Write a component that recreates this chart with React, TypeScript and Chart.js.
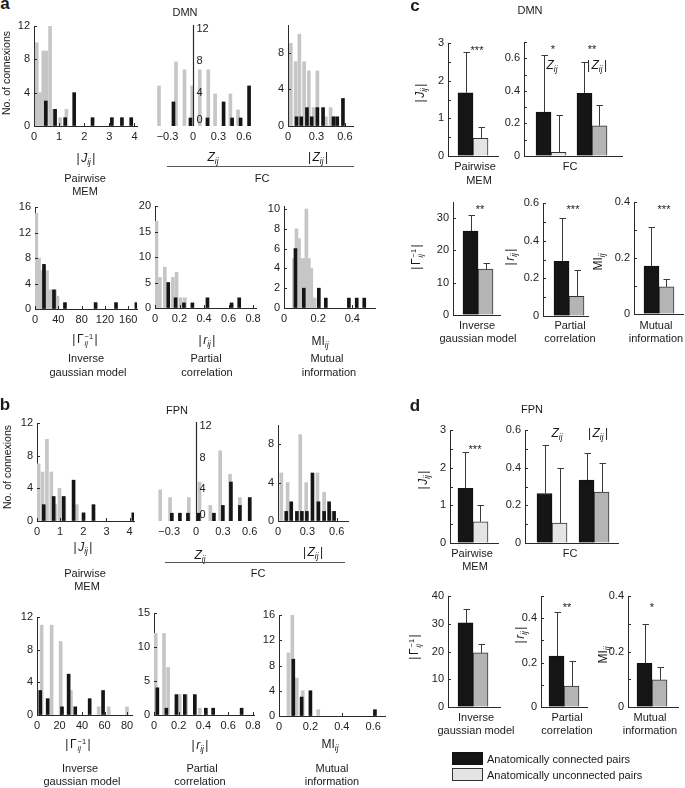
import React, { useEffect, useRef } from 'react';
import { Chart, registerables } from 'chart.js';

Chart.register(...registerables);

const FONT = '"Liberation Sans", Arial, Helvetica, sans-serif';
Chart.defaults.font.family = FONT;
Chart.defaults.font.size = 11;
Chart.defaults.color = '#222';

const BLACK = '#151515';
const HGRAY = '#c6c6c6';
const LIGHT = '#e4e4e4';
const MID = '#b4b4b4';
const AXIS = '#2a2a2a';

// ---------------- DATA ----------------
// Panel a (DMN) histograms: bin centres (x) and counts (y)
const dmnJConnX = [0.47, 0.84, 1.24, 1.6, 2.33, 3.1, 3.5, 3.87];
const dmnJConnY = [3, 2, 1, 4, 1, 1, 1, 1];
const dmnJUncX = [0.11, 0.24, 0.37, 0.49, 0.64, 0.77, 1.04, 1.29];
const dmnJUncY = [10, 4, 9, 9, 12, 2, 1, 2];

const dmnZConnX = [-0.23, -0.03, 0.17, 0.36, 0.46, 0.56, 0.66];
const dmnZConnY = [3, 1, 1, 3, 1, 1, 5];
const dmnZUncX = [-0.4, -0.2, -0.1, -0.01, 0.08, 0.18, 0.26, 0.44, 0.53];
const dmnZUncY = [5, 8, 7, 5, 7, 7, 4, 4, 2];

const dmnAZConnX = [0.09, 0.14, 0.2, 0.25, 0.31, 0.37, 0.48, 0.52, 0.58];
const dmnAZConnY = [1, 1, 2, 1, 2, 2, 1, 1, 3];
const dmnAZUncX = [0.03, 0.08, 0.12, 0.17, 0.22, 0.27, 0.31, 0.4, 0.45, 0.5];
const dmnAZUncY = [9, 7, 10, 7, 6, 2, 6, 1, 2, 1];

const dmnGConnX = [15.4, 32.6, 51.4, 104, 139, 174];
const dmnGConnY = [7, 3, 1, 1, 1, 1];
const dmnGUncX = [2.3, 6.9, 11.4, 16, 20.6, 25.1, 29.7, 34.3, 38.5];
const dmnGUncY = [15, 8, 6, 6, 6, 3, 3, 3, 2];

const dmnRConnX = [0.108, 0.168, 0.236, 0.305, 0.428, 0.625, 0.687];
const dmnRConnY = [5, 2, 1, 1, 2, 1, 2];
const dmnRUncX = [0.012, 0.04, 0.08, 0.146, 0.176, 0.209, 0.244];
const dmnRUncY = [17, 6, 8, 6, 7, 2, 2];

const dmnMIConnX = [0.067, 0.116, 0.204, 0.245, 0.38, 0.426, 0.47];
const dmnMIConnY = [6, 2, 2, 1, 1, 1, 1];
const dmnMIUncX = [0.058, 0.073, 0.088, 0.102, 0.117, 0.131, 0.146, 0.16, 0.18];
const dmnMIUncY = [5, 8, 7, 5, 5, 10, 5, 4, 1];

// Panel b (FPN) histograms
const fpnJConnX = [0.29, 0.72, 1.15, 1.58, 2.01, 2.44, 4.16];
const fpnJConnY = [2, 3, 3, 5, 1, 2, 1];
const fpnJUncX = [0.07, 0.24, 0.43, 0.62, 0.79, 0.97, 1.18, 1.72];
const fpnJUncY = [7, 6, 10, 6, 2, 4, 3, 2];

const fpnZConnX = [-0.27, -0.18, -0.09, 0.03, 0.2, 0.3, 0.39, 0.49, 0.6];
const fpnZConnY = [1, 1, 1, 1, 1, 2, 5, 2, 3];
const fpnZUncX = [-0.4, -0.29, -0.08, 0.04, 0.16, 0.27, 0.38, 0.49, 0.6];
const fpnZUncY = [4, 3, 3, 5, 2, 9, 6, 3, 3];

const fpnAZConnX = [0.084, 0.135, 0.193, 0.244, 0.295, 0.352, 0.413, 0.471, 0.522, 0.573];
const fpnAZConnY = [1, 2, 1, 1, 1, 5, 2, 1, 2, 1];
const fpnAZUncX = [0.034, 0.098, 0.227, 0.288, 0.403, 0.471, 0.539];
const fpnAZUncY = [5, 4, 9, 4, 5, 3, 1];

const fpnGConnX = [2.9, 9.5, 22.2, 28.1, 34, 46.8, 58.7];
const fpnGConnY = [3, 2, 1, 5, 1, 2, 3];
const fpnGUncX = [4.1, 13, 21, 30.2, 54.8, 63.7, 80];
const fpnGUncY = [11, 11, 9, 3, 1, 1, 1];

const fpnRConnX = [0.027, 0.1, 0.181, 0.249, 0.33, 0.419, 0.478, 0.708];
const fpnRConnY = [4, 1, 3, 3, 3, 1, 1, 1];
const fpnRUncX = [0.014, 0.081, 0.114, 0.208, 0.26, 0.37];
const fpnRUncY = [12, 12, 7, 3, 3, 1];

const fpnMIConnX = [0.091, 0.144, 0.2, 0.611];
const fpnMIConnY = [9, 3, 4, 1];
const fpnMIUncX = [0.06, 0.085, 0.113, 0.151, 0.25];
const fpnMIUncY = [10, 16, 6, 4, 1];

// Tick labels
const ticksJ = [0, 1, 2, 3, 4];
const ticksZ = [-0.3, 0, 0.3, 0.6];
const ticksAbsZ = [0, 0.3, 0.6];
const ticksGdmn = [0, 40, 80, 120, 160];
const ticksGfpn = [0, 20, 40, 60, 80];
const ticksR = [0, 0.2, 0.4, 0.6, 0.8];
const ticksMIdmn = [0, 0.2, 0.4];
const ticksMIfpn = [0, 0.2, 0.4, 0.6];
const cnt8 = [0, 4, 8];
const cnt10 = [0, 2, 4, 6, 8, 10];
const cnt12 = [0, 4, 8, 12];
const cnt15 = [0, 5, 10, 15];
const cnt16 = [0, 4, 8, 12, 16];
const cnt20 = [0, 5, 10, 15, 20];

// Panels c, d: mean values and top of error bars (mean + s.d.)
const groupOne = [1];
const groupFC = [1, 2]; // Zij, |Zij|

const dmnMemConn = [1.68];
const dmnMemConnUp = [2.77];
const dmnMemUnc = [0.47];
const dmnMemUncUp = [0.76];
const dmnFcConn = [0.27, 0.385];
const dmnFcConnUp = [0.62, 0.58];
const dmnFcUnc = [0.023, 0.186];
const dmnFcUncUp = [0.25, 0.313];
const dmnGaussConn = [26];
const dmnGaussConnUp = [30.9];
const dmnGaussUnc = [14.2];
const dmnGaussUncUp = [16];
const dmnPcConn = [0.29];
const dmnPcConnUp = [0.52];
const dmnPcUnc = [0.105];
const dmnPcUncUp = [0.245];
const dmnMiConn = [0.171];
const dmnMiConnUp = [0.311];
const dmnMiUnc = [0.097];
const dmnMiUncUp = [0.125];

const fpnMemConn = [1.45];
const fpnMemConnUp = [2.42];
const fpnMemUnc = [0.565];
const fpnMemUncUp = [1.0];
const fpnFcConn = [0.263, 0.334];
const fpnFcConnUp = [0.52, 0.48];
const fpnFcUnc = [0.106, 0.27];
const fpnFcUncUp = [0.4, 0.425];
const fpnGaussConn = [30.3];
const fpnGaussConnUp = [35.3];
const fpnGaussUnc = [19.5];
const fpnGaussUncUp = [22.7];
const fpnPcConn = [0.229];
const fpnPcConnUp = [0.427];
const fpnPcUnc = [0.094];
const fpnPcUncUp = [0.205];
const fpnMiConn = [0.157];
const fpnMiConnUp = [0.3];
const fpnMiUnc = [0.098];
const fpnMiUncUp = [0.143];

const yT3 = [0, 0.5, 1, 1.5, 2, 2.5, 3];
const yT3major = [0, 1, 2, 3];
const yT07 = [0, 0.1, 0.2, 0.3, 0.4, 0.5, 0.6, 0.7];
const yT06 = [0, 0.1, 0.2, 0.3, 0.4, 0.5, 0.6];
const yT06major = [0, 0.2, 0.4, 0.6];
const yT05 = [0, 0.1, 0.2, 0.3, 0.4, 0.5];
const yT04 = [0, 0.1, 0.2, 0.3, 0.4];
const yT04major = [0, 0.2, 0.4];
const yT35 = [0, 5, 10, 15, 20, 25, 30, 35];
const yT30major = [0, 10, 20, 30];
const yT40 = [0, 5, 10, 15, 20, 25, 30, 35, 40];
const yT40major = [0, 10, 20, 30, 40];

// ---------------- LAYOUT ----------------
const PL = 40, PT = 12, PR = 22, PB = 26;

const HISTS = [
  { L: 33.5, R: 136, T: 26, B: 126, xmin: 0, xmax: 4.1, ymax: 12, xt: ticksJ, yt: cnt12, cx: dmnJConnX, cy: dmnJConnY, ux: dmnJUncX, uy: dmnJUncY },
  { L: 150, R: 258, T: 25, B: 126, xmin: -0.506, xmax: 0.765, ymax: 12.6, xt: ticksZ, yt: cnt12, cx: dmnZConnX, cy: dmnZConnY, ux: dmnZUncX, uy: dmnZUncY, mid: true },
  { L: 287.5, R: 352.7, T: 25, B: 126, xmin: 0, xmax: 0.686, ymax: 11, xt: ticksAbsZ, yt: cnt8, cx: dmnAZConnX, cy: dmnAZConnY, ux: dmnAZUncX, uy: dmnAZUncY },
  { L: 35, R: 137, T: 206.7, B: 308.3, xmin: 0, xmax: 175, ymax: 16, xt: ticksGdmn, yt: cnt16, cx: dmnGConnX, cy: dmnGConnY, ux: dmnGUncX, uy: dmnGUncY },
  { L: 154.5, R: 255, T: 206, B: 308.3, xmin: 0, xmax: 0.824, ymax: 20, xt: ticksR, yt: cnt20, cx: dmnRConnX, cy: dmnRConnY, ux: dmnRUncX, uy: dmnRUncY },
  { L: 284.3, R: 375, T: 206, B: 307.5, xmin: 0, xmax: 0.533, ymax: 10.3, xt: ticksMIdmn, yt: cnt10, cx: dmnMIConnX, cy: dmnMIConnY, ux: dmnMIUncX, uy: dmnMIUncY },

  { L: 36.7, R: 134, T: 423.3, B: 521, xmin: 0, xmax: 4.19, ymax: 12, xt: ticksJ, yt: cnt12, cx: fpnJConnX, cy: fpnJConnY, ux: fpnJUncX, uy: fpnJUncY },
  { L: 155, R: 262, T: 422, B: 521, xmin: -0.458, xmax: 0.737, ymax: 12.7, xt: ticksZ, yt: cnt12, cx: fpnZConnX, cy: fpnZConnY, ux: fpnZUncX, uy: fpnZUncY, mid: true },
  { L: 277.7, R: 348, T: 425.2, B: 521, xmin: 0, xmax: 0.715, ymax: 10, xt: ticksAbsZ, yt: cnt8, cx: fpnAZConnX, cy: fpnAZConnY, ux: fpnAZUncX, uy: fpnAZUncY },
  { L: 36.7, R: 131.7, T: 616.7, B: 715, xmin: 0, xmax: 84.4, ymax: 12, xt: ticksGfpn, yt: cnt12, cx: fpnGConnX, cy: fpnGConnY, ux: fpnGUncX, uy: fpnGUncY },
  { L: 154.3, R: 254, T: 613.3, B: 715, xmin: 0, xmax: 0.808, ymax: 15, xt: ticksR, yt: cnt15, cx: fpnRConnX, cy: fpnRConnY, ux: fpnRUncX, uy: fpnRUncY },
  { L: 279, R: 385, T: 615, B: 716, xmin: 0, xmax: 0.675, ymax: 16, xt: ticksMIfpn, yt: cnt16, cx: fpnMIConnX, cy: fpnMIConnY, ux: fpnMIUncX, uy: fpnMIUncY },
];

const MEANS = [
  { L: 448, R: 498, T: 43, B: 156, xmin: 0.5, xmax: 1.5, ymax: 3, yt: yT3, ym: yT3major, g: groupOne, c: dmnMemConn, cu: dmnMemConnUp, u: dmnMemUnc, uu: dmnMemUncUp, uc: [LIGHT] },
  { L: 524, R: 622, T: 42, B: 156, xmin: 0.341, xmax: 2.732, ymax: 0.7, yt: yT07, ym: yT06major, g: groupFC, c: dmnFcConn, cu: dmnFcConnUp, u: dmnFcUnc, uu: dmnFcUncUp, uc: [LIGHT, MID] },
  { L: 453, R: 500, T: 201.6, B: 315, xmin: 0.468, xmax: 1.468, ymax: 35, yt: yT35, ym: yT30major, g: groupOne, c: dmnGaussConn, cu: dmnGaussConnUp, u: dmnGaussUnc, uu: dmnGaussUncUp, uc: [MID] },
  { L: 543, R: 588, T: 203, B: 316, xmin: 0.422, xmax: 1.422, ymax: 0.6, yt: yT06, ym: yT06major, g: groupOne, c: dmnPcConn, cu: dmnPcConnUp, u: dmnPcUnc, uu: dmnPcUncUp, uc: [MID] },
  { L: 634, R: 683, T: 202, B: 314, xmin: 0.49, xmax: 1.49, ymax: 0.4, yt: yT04, ym: yT04major, g: groupOne, c: dmnMiConn, cu: dmnMiConnUp, u: dmnMiUnc, uu: dmnMiUncUp, uc: [MID] },

  { L: 450, R: 498, T: 430, B: 543, xmin: 0.521, xmax: 1.521, ymax: 3, yt: yT3, ym: yT3major, g: groupOne, c: fpnMemConn, cu: fpnMemConnUp, u: fpnMemUnc, uu: fpnMemUncUp, uc: [LIGHT] },
  { L: 525, R: 618, T: 430, B: 543, xmin: 0.357, xmax: 2.571, ymax: 0.6, yt: yT06, ym: yT06major, g: groupFC, c: fpnFcConn, cu: fpnFcConnUp, u: fpnFcUnc, uu: fpnFcUncUp, uc: [LIGHT, MID] },
  { L: 448, R: 500, T: 596, B: 707, xmin: 0.519, xmax: 1.519, ymax: 40, yt: yT40, ym: yT40major, g: groupOne, c: fpnGaussConn, cu: fpnGaussConnUp, u: fpnGaussUnc, uu: fpnGaussUncUp, uc: [MID] },
  { L: 541, R: 587, T: 596, B: 707, xmin: 0.5, xmax: 1.5, ymax: 0.5, yt: yT05, ym: yT04major, g: groupOne, c: fpnPcConn, cu: fpnPcConnUp, u: fpnPcUnc, uu: fpnPcUncUp, uc: [MID] },
  { L: 628, R: 678, T: 596, B: 707, xmin: 0.52, xmax: 1.52, ymax: 0.4, yt: yT04, ym: yT04major, g: groupOne, c: fpnMiConn, cu: fpnMiConnUp, u: fpnMiUnc, uu: fpnMiUncUp, uc: [MID] },
];

// ---------------- HELPERS ----------------
const fmt = (v: number) => (v < 0 ? '\u2212' + String(-v) : String(v));

function inTicksPlugin(xOn: boolean, yOn: boolean) {
  return {
    id: 'inTicks',
    afterDraw(chart: any) {
      const { ctx, chartArea } = chart;
      ctx.save();
      ctx.strokeStyle = AXIS;
      ctx.lineWidth = 1;
      if (xOn) {
        const s = chart.scales.x;
        s.ticks.forEach((t: any) => {
          const p = Math.round(s.getPixelForValue(t.value)) + 0.5;
          ctx.beginPath();
          ctx.moveTo(p, chartArea.bottom);
          ctx.lineTo(p, chartArea.bottom - 3);
          ctx.stroke();
        });
      }
      if (yOn) {
        const s = chart.scales.y;
        s.ticks.forEach((t: any) => {
          const p = Math.round(s.getPixelForValue(t.value)) + 0.5;
          ctx.beginPath();
          ctx.moveTo(chartArea.left, p);
          ctx.lineTo(chartArea.left + 3, p);
          ctx.stroke();
        });
      }
      ctx.restore();
    },
  };
}

function midAxisPlugin(ticks: number[]) {
  return {
    id: 'midAxis',
    afterDraw(chart: any) {
      const { ctx } = chart;
      const xs = chart.scales.x;
      const ys = chart.scales.y;
      const x0 = Math.round(xs.getPixelForValue(0)) + 0.5;
      ctx.save();
      ctx.strokeStyle = AXIS;
      ctx.lineWidth = 1.2;
      ctx.beginPath();
      ctx.moveTo(x0, ys.getPixelForValue(0));
      ctx.lineTo(x0, ys.top);
      ctx.stroke();
      ctx.fillStyle = '#222';
      ctx.font = `11px ${FONT}`;
      ctx.textAlign = 'left';
      ctx.textBaseline = 'middle';
      ticks.forEach((v) => {
        const p = ys.getPixelForValue(v);
        ctx.fillText(String(v), x0 + 3, Math.min(p - 1, ys.bottom - 6));
      });
      ctx.restore();
    },
  };
}

function errBarsPlugin(uppers: number[][]) {
  return {
    id: 'errBars',
    afterDatasetsDraw(chart: any) {
      const { ctx } = chart;
      const ys = chart.scales.y;
      ctx.save();
      ctx.strokeStyle = '#3a3a3a';
      ctx.lineWidth = 1;
      uppers.forEach((arr, di) => {
        const meta = chart.getDatasetMeta(di);
        arr.forEach((u, j) => {
          const el = meta.data[j];
          if (!el) return;
          const x = Math.round(el.x) + 0.5;
          const yU = Math.round(ys.getPixelForValue(u)) + 0.5;
          ctx.beginPath();
          ctx.moveTo(x, el.y);
          ctx.lineTo(x, yU);
          ctx.moveTo(x - 3, yU);
          ctx.lineTo(x + 3.5, yU);
          ctx.stroke();
        });
      });
      ctx.restore();
    },
  };
}

const baseGrid = { display: true, drawOnChartArea: false, drawTicks: false, offset: false };
const baseBorder = { display: true, color: AXIS, width: 1 };

function histConfig(h: any): any {
  const mid = !!h.mid;
  return {
    type: 'bar',
    data: {
      datasets: [
        { data: h.cx.map((x: number, i: number) => ({ x, y: h.cy[i] })), backgroundColor: BLACK, grouped: false, barThickness: 3 },
        { data: h.ux.map((x: number, i: number) => ({ x, y: h.uy[i] })), backgroundColor: HGRAY, grouped: false, barThickness: 3 },
      ],
    },
    options: {
      responsive: false,
      animation: false,
      devicePixelRatio: 1,
      layout: { padding: { left: 0, top: PT, right: PR, bottom: 0 } },
      plugins: { legend: { display: false }, tooltip: { enabled: false } },
      scales: {
        x: {
          type: 'linear',
          min: h.xmin,
          max: h.xmax,
          offset: false,
          afterBuildTicks: (s: any) => { s.ticks = h.xt.map((v: number) => ({ value: v })); },
          afterFit: (s: any) => { s.height = PB; },
          ticks: { maxRotation: 0, minRotation: 0, autoSkip: false, padding: 4, callback: (v: number) => fmt(v), color: '#222' },
          grid: baseGrid,
          border: { ...baseBorder, display: !mid },
        },
        y: {
          display: !mid,
          type: 'linear',
          min: 0,
          max: h.ymax,
          afterBuildTicks: (s: any) => { s.ticks = h.yt.map((v: number) => ({ value: v })); },
          afterFit: (s: any) => { s.width = PL; },
          ticks: { padding: 4, callback: (v: number) => fmt(v), color: '#222' },
          grid: baseGrid,
          border: baseBorder,
        },
      },
    },
    plugins: mid ? [midAxisPlugin(h.yt)] : [inTicksPlugin(true, true)],
  };
}

function meanConfig(m: any): any {
  return {
    type: 'bar',
    data: {
      datasets: [
        { data: m.g.map((x: number, i: number) => ({ x, y: m.c[i] })), backgroundColor: BLACK, borderColor: '#111', borderWidth: 1, barThickness: 15 },
        { data: m.g.map((x: number, i: number) => ({ x, y: m.u[i] })), backgroundColor: m.uc, borderColor: '#333', borderWidth: 1, barThickness: 15 },
      ],
    },
    options: {
      responsive: false,
      animation: false,
      devicePixelRatio: 1,
      layout: { padding: { left: 0, top: PT, right: PR, bottom: 0 } },
      plugins: { legend: { display: false }, tooltip: { enabled: false } },
      scales: {
        x: {
          type: 'linear',
          min: m.xmin,
          max: m.xmax,
          offset: false,
          afterFit: (s: any) => { s.height = PB; },
          ticks: { display: false },
          grid: baseGrid,
          border: baseBorder,
        },
        y: {
          type: 'linear',
          min: 0,
          max: m.ymax,
          afterBuildTicks: (s: any) => { s.ticks = m.yt.map((v: number) => ({ value: v })); },
          afterFit: (s: any) => { s.width = PL; },
          ticks: { padding: 4, callback: (v: number) => (m.ym.includes(v) ? fmt(v) : ''), color: '#222' },
          grid: baseGrid,
          border: baseBorder,
        },
      },
    },
    plugins: [inTicksPlugin(false, true), errBarsPlugin([m.cu, m.uu])],
  };
}

function ChartBox({ L, T, R, B, build }: any) {
  const ref = useRef<HTMLCanvasElement>(null);
  const left = Math.round(L) - PL;
  const top = Math.round(T) - PT;
  const w = Math.round(R - L) + PL + PR;
  const h = Math.round(B - T) + PT + PB;
  useEffect(() => {
    const c = new Chart(ref.current as HTMLCanvasElement, build());
    return () => c.destroy();
  }, []);
  return <canvas ref={ref} width={w} height={h} style={{ position: 'absolute', left, top, width: w, height: h }} />;
}

function Txt({ x, y, size = 11, bold = false, rot = false, left = false, children }: any) {
  const tr = left ? 'translate(0,-50%)' : `translate(-50%,-50%)${rot ? ' rotate(-90deg)' : ''}`;
  return (
    <div style={{ position: 'absolute', left: x, top: y, transform: tr, fontSize: size, fontWeight: bold ? 700 : 400, whiteSpace: 'nowrap', lineHeight: 1, color: '#1a1a1a', fontFamily: FONT }}>
      {children}
    </div>
  );
}

const subStyle: any = { fontSize: '0.68em', verticalAlign: '-0.4em', lineHeight: 0, fontStyle: 'italic' };
const Sub = ({ children }: any) => <span style={subStyle}>{children}</span>;
const bar = <span style={{ fontWeight: 300, margin: '0 1.5px' }}>|</span>;
const Jij = () => <>{bar}<i>J</i><Sub>ij</Sub>{bar}</>;
const Zij = () => <><i>Z</i><Sub>ij</Sub></>;
const AZij = () => <>{bar}<i>Z</i><Sub>ij</Sub>{bar}</>;
const Rij = () => <>{bar}<i>r</i><Sub>ij</Sub>{bar}</>;
const MIij = () => <>MI<Sub>ij</Sub></>;
const Ginv = () => (
  <>
    {bar}Γ
    <span style={{ display: 'inline-flex', flexDirection: 'column', fontSize: '0.62em', lineHeight: 0.95, verticalAlign: 'middle', marginLeft: 1 }}>
      <span>−1</span>
      <span style={{ fontStyle: 'italic' }}>ij</span>
    </span>
    {bar}
  </>
);

const Line = ({ x1, x2, y }: any) => (
  <div style={{ position: 'absolute', left: x1, top: y, width: x2 - x1, height: 0, borderTop: '1.3px solid #555' }} />
);

export default function App() {
  return (
    <div style={{ position: 'absolute', left: 0, top: 0, width: 685, height: 788, overflow: 'hidden', background: '#fff', fontFamily: FONT }}>
      {HISTS.map((h, i) => (
        <ChartBox key={'h' + i} L={h.L} T={h.T} R={h.R} B={h.B} build={() => histConfig(h)} />
      ))}
      {MEANS.map((m, i) => (
        <ChartBox key={'m' + i} L={m.L} T={m.T} R={m.R} B={m.B} build={() => meanConfig(m)} />
      ))}

      {/* panel letters & titles */}
      <Txt x={5} y={3} size={17} bold>a</Txt>
      <Txt x={5} y={404} size={17} bold>b</Txt>
      <Txt x={415} y={5} size={17} bold>c</Txt>
      <Txt x={415} y={405} size={17} bold>d</Txt>
      <Txt x={185} y={12}>DMN</Txt>
      <Txt x={177} y={410}>FPN</Txt>
      <Txt x={530} y={10}>DMN</Txt>
      <Txt x={532} y={409}>FPN</Txt>

      {/* panel a */}
      <Txt x={6} y={73} size={10.5} rot>No. of connexions</Txt>
      <Txt x={86} y={158} size={12}><Jij /></Txt>
      <Txt x={85} y={178}>Pairwise</Txt>
      <Txt x={85} y={191}>MEM</Txt>
      <Txt x={213} y={157} size={12}><Zij /></Txt>
      <Txt x={318} y={157} size={12}><AZij /></Txt>
      <Line x1={167} x2={354} y={166} />
      <Txt x={262} y={178}>FC</Txt>
      <Txt x={85} y={340} size={12}><Ginv /></Txt>
      <Txt x={86} y={358}>Inverse</Txt>
      <Txt x={88} y={372}>gaussian model</Txt>
      <Txt x={207} y={340} size={12}><Rij /></Txt>
      <Txt x={206} y={358}>Partial</Txt>
      <Txt x={207} y={372}>correlation</Txt>
      <Txt x={320} y={341} size={12}><MIij /></Txt>
      <Txt x={327} y={358}>Mutual</Txt>
      <Txt x={329} y={372}>information</Txt>

      {/* panel b */}
      <Txt x={7} y={467} size={10.5} rot>No. of connexions</Txt>
      <Txt x={83} y={547} size={12}><Jij /></Txt>
      <Txt x={85} y={573}>Pairwise</Txt>
      <Txt x={87} y={586}>MEM</Txt>
      <Txt x={200} y={555} size={12}><Zij /></Txt>
      <Txt x={313} y={552} size={12}><AZij /></Txt>
      <Line x1={165} x2={345} y={562} />
      <Txt x={258} y={573}>FC</Txt>
      <Txt x={78} y={745} size={12}><Ginv /></Txt>
      <Txt x={80} y={768}>Inverse</Txt>
      <Txt x={82} y={781}>gaussian model</Txt>
      <Txt x={200} y={745} size={12}><Rij /></Txt>
      <Txt x={202} y={768}>Partial</Txt>
      <Txt x={200} y={781}>correlation</Txt>
      <Txt x={330} y={744} size={12}><MIij /></Txt>
      <Txt x={332} y={768}>Mutual</Txt>
      <Txt x={332} y={781}>information</Txt>

      {/* panel c */}
      <Txt x={420} y={93} size={12} rot><Jij /></Txt>
      <Txt x={477} y={50}>***</Txt>
      <Txt x={475} y={166}>Pairwise</Txt>
      <Txt x={479} y={180}>MEM</Txt>
      <Txt x={553} y={49}>*</Txt>
      <Txt x={592} y={49}>**</Txt>
      <Txt x={552} y={65} size={12}><Zij /></Txt>
      <Txt x={597} y={65} size={12}><AZij /></Txt>
      <Txt x={570} y={166}>FC</Txt>
      <Txt x={417} y={257} size={12} rot><Ginv /></Txt>
      <Txt x={480} y={209}>**</Txt>
      <Txt x={477} y={325}>Inverse</Txt>
      <Txt x={478} y={338}>gaussian model</Txt>
      <Txt x={510} y={257} size={12} rot><Rij /></Txt>
      <Txt x={573} y={209}>***</Txt>
      <Txt x={570} y={325}>Partial</Txt>
      <Txt x={570} y={338}>correlation</Txt>
      <Txt x={598} y={262} size={12} rot><MIij /></Txt>
      <Txt x={664} y={209}>***</Txt>
      <Txt x={656} y={325}>Mutual</Txt>
      <Txt x={656} y={338}>information</Txt>

      {/* panel d */}
      <Txt x={423} y={480} size={12} rot><Jij /></Txt>
      <Txt x={475} y={449}>***</Txt>
      <Txt x={472} y={553}>Pairwise</Txt>
      <Txt x={475} y={566}>MEM</Txt>
      <Txt x={557} y={433} size={12}><Zij /></Txt>
      <Txt x={598} y={433} size={12}><AZij /></Txt>
      <Txt x={570} y={553}>FC</Txt>
      <Txt x={415} y={647} size={12} rot><Ginv /></Txt>
      <Txt x={476} y={717}>Inverse</Txt>
      <Txt x={476} y={730}>gaussian model</Txt>
      <Txt x={520} y={635} size={12} rot><Rij /></Txt>
      <Txt x={567} y={607}>**</Txt>
      <Txt x={567} y={717}>Partial</Txt>
      <Txt x={567} y={730}>correlation</Txt>
      <Txt x={603} y={655} size={12} rot><MIij /></Txt>
      <Txt x={652} y={607}>*</Txt>
      <Txt x={650} y={717}>Mutual</Txt>
      <Txt x={650} y={730}>information</Txt>

      {/* legend */}
      <div style={{ position: 'absolute', left: 452, top: 752, width: 31, height: 13, background: BLACK, boxSizing: 'border-box', border: '1px solid #111' }} />
      <div style={{ position: 'absolute', left: 452, top: 768, width: 31, height: 13, background: LIGHT, boxSizing: 'border-box', border: '1px solid #333' }} />
      <Txt x={487} y={759} left>Anatomically connected pairs</Txt>
      <Txt x={487} y={775} left>Anatomically unconnected pairs</Txt>
    </div>
  );
}
